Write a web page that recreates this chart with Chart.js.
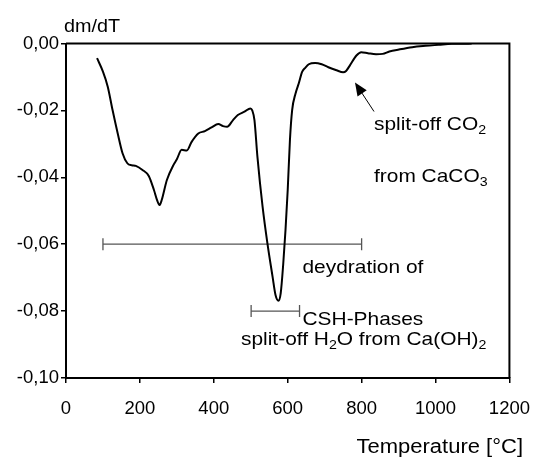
<!DOCTYPE html>
<html>
<head>
<meta charset="utf-8">
<script src="https://cdn.jsdelivr.net/npm/chart.js@4/dist/chart.umd.min.js"></script>
<style>
  body { margin: 0; background: #fff; }
  #wrap { width: 545px; height: 459px; }
</style>
</head>
<body>
<div id="wrap"><canvas id="dtgChart" width="545" height="459"></canvas></div>
<script>
// DTG curve
const temps = [84, 100, 113, 126, 140, 153, 166, 178, 189, 207, 224, 238, 247, 253, 259, 273, 291,
  300, 313, 327, 340, 358, 376, 394, 412, 425, 436, 452, 465, 483, 499, 504, 510, 518, 532, 545,
  559, 567, 575, 581, 588, 594, 600, 606, 612, 621, 630, 639, 648, 657, 674, 692, 710, 732, 750,
  758, 768, 786, 799, 817, 839, 857, 875, 901, 937, 973, 1008, 1044, 1070, 1098];
const dmdt = [-0.0044, -0.0084, -0.0129, -0.0199, -0.0269, -0.0328, -0.0358, -0.0364, -0.0366,
  -0.0378, -0.0396, -0.0438, -0.0470, -0.0483, -0.0468, -0.0408, -0.0363,
  -0.0346, -0.0318, -0.0320, -0.0294, -0.0269, -0.0262, -0.0251, -0.0241, -0.0247, -0.0249,
  -0.0229, -0.0214, -0.0204, -0.0194, -0.0200, -0.0229, -0.0338, -0.0488, -0.0597,
  -0.0697, -0.0752, -0.0769, -0.0747, -0.0657, -0.0558, -0.0438, -0.0289, -0.0199, -0.0150,
  -0.0119, -0.0085, -0.0072, -0.0062, -0.0058, -0.0062, -0.0071, -0.0080, -0.0086,
  -0.0082, -0.0066, -0.0036, -0.0026, -0.0029, -0.0032, -0.0031, -0.0024, -0.0018, -0.0011,
  -0.0007, -0.0004, -0.0001, -0.0001, 0.0000];

// range bars
const dehydrationRange = [100, 800];
const dehydrationLevel = -0.06;
const portlanditeRange = [501, 632];
const portlanditeLevel = -0.08;

const xTicks = [0, 200, 400, 600, 800, 1000, 1200];
const yTicks = [0, -0.02, -0.04, -0.06, -0.08, -0.1];

const curve = temps.map((t, i) => ({ x: t, y: dmdt[i] }));

function rangeBar(range, level) {
  return {
    data: range.map(t => ({ x: t, y: level })),
    borderColor: '#555',
    borderWidth: 1.3,
    pointStyle: 'line',
    rotation: 90,
    pointRadius: 6,
    pointBorderColor: '#555',
    pointBorderWidth: 1.3,
    pointHoverRadius: 6
  };
}

// text with subscripts, stretched a bit sideways like the original
function drawText(ctx, parts, x, y, size, sx, align) {
  ctx.save();
  ctx.fillStyle = '#000';
  ctx.textBaseline = 'alphabetic';
  ctx.textAlign = 'left';
  let total = 0;
  parts.forEach(p => {
    ctx.font = (p[1] ? size * 0.68 : size) + 'px "Liberation Sans", Arial, sans-serif';
    total += ctx.measureText(p[0]).width;
  });
  ctx.translate(x, y);
  ctx.scale(sx, 1);
  let cx = align === 'right' ? -total : 0;
  parts.forEach(p => {
    ctx.font = (p[1] ? size * 0.68 : size) + 'px "Liberation Sans", Arial, sans-serif';
    ctx.fillText(p[0], cx, p[1] ? size * 0.2 : 0);
    cx += ctx.measureText(p[0]).width;
  });
  ctx.restore();
}

const annotations = {
  id: 'annotations',
  afterDraw(chart) {
    const ctx = chart.ctx;
    const a = chart.chartArea;

    // top and right frame
    ctx.save();
    ctx.strokeStyle = '#000';
    ctx.lineWidth = 2;
    ctx.beginPath();
    ctx.moveTo(a.left, a.top);
    ctx.lineTo(a.right, a.top);
    ctx.lineTo(a.right, a.bottom);
    ctx.stroke();

    // arrow to the CO2 peak
    const tx = 355, ty = 82.5, fx = 374, fy = 111.5;
    const ang = Math.atan2(ty - fy, tx - fx);
    ctx.lineWidth = 1;
    ctx.beginPath();
    ctx.moveTo(fx, fy);
    ctx.lineTo(tx - 8 * Math.cos(ang), ty - 8 * Math.sin(ang));
    ctx.stroke();
    ctx.fillStyle = '#000';
    ctx.beginPath();
    ctx.moveTo(tx, ty);
    ctx.lineTo(tx - 13 * Math.cos(ang) + 5.5 * Math.sin(ang), ty - 13 * Math.sin(ang) - 5.5 * Math.cos(ang));
    ctx.lineTo(tx - 13 * Math.cos(ang) - 5.5 * Math.sin(ang), ty - 13 * Math.sin(ang) + 5.5 * Math.cos(ang));
    ctx.closePath();
    ctx.fill();
    ctx.restore();

    drawText(ctx, [['dm/dT']], 64, 31.5, 18, 1.1);
    drawText(ctx, [['Temperature [°C]']], 523, 453, 20, 1.1, 'right');
    drawText(ctx, [['split-off CO'], ['2', true]], 374, 130, 19, 1.1);
    drawText(ctx, [['from CaCO'], ['3', true]], 374, 182, 19, 1.1);
    drawText(ctx, [['deydration of']], 302.5, 272.5, 19, 1.1);
    drawText(ctx, [['CSH-Phases']], 302.5, 325, 19, 1.1);
    drawText(ctx, [['split-off H'], ['2', true], ['O from Ca(OH)'], ['2', true]], 241, 345, 19, 1.1);
  }
};

new Chart(document.getElementById('dtgChart'), {
  type: 'line',
  data: {
    datasets: [
      {
        data: curve,
        borderColor: '#000',
        borderWidth: 2,
        pointRadius: 0,
        cubicInterpolationMode: 'monotone'
      },
      rangeBar(dehydrationRange, dehydrationLevel),
      rangeBar(portlanditeRange, portlanditeLevel)
    ]
  },
  options: {
    responsive: false,
    animation: false,
    events: [],
    layout: { padding: { left: 0, top: 43.5, right: 30, bottom: 0 } },
    plugins: { legend: { display: false }, tooltip: { enabled: false } },
    scales: {
      x: {
        type: 'linear',
        min: 0,
        max: 1200,
        afterBuildTicks: s => { s.ticks = xTicks.map(v => ({ value: v })); },
        afterFit: s => { s.height = 81; },
        grid: { drawOnChartArea: false, drawTicks: true, tickLength: 5, color: '#000', lineWidth: 1.5 },
        border: { color: '#000', width: 2 },
        ticks: {
          color: '#000',
          padding: 15,
          maxRotation: 0,
          font: { family: '"Liberation Sans", Arial, sans-serif', size: 18.5 },
          callback: v => String(v)
        }
      },
      y: {
        type: 'linear',
        min: -0.1,
        max: 0,
        afterBuildTicks: s => { s.ticks = yTicks.map(v => ({ value: v })); },
        afterFit: s => { s.width = 66; },
        grid: { drawOnChartArea: false, drawTicks: true, tickLength: 5, color: '#000', lineWidth: 1.5 },
        border: { color: '#000', width: 2 },
        ticks: {
          color: '#000',
          padding: 2,
          font: { family: '"Liberation Sans", Arial, sans-serif', size: 18.5 },
          callback: v => v.toFixed(2).replace('.', ',')
        }
      }
    }
  },
  plugins: [annotations]
});
</script>
</body>
</html>
